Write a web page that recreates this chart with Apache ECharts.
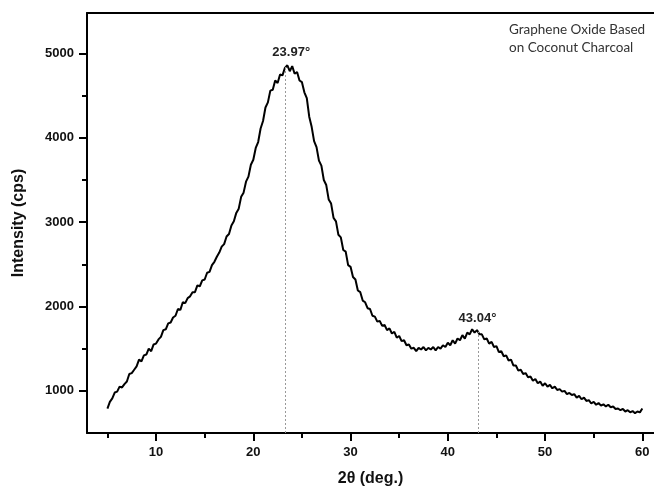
<!DOCTYPE html>
<html>
<head>
<meta charset="utf-8">
<script src="https://cdn.jsdelivr.net/npm/echarts@6/dist/echarts.min.js"></script>
<style>html,body{margin:0;padding:0;background:#fff;}#c{width:654px;height:492px;}</style>
</head>
<body>
<div id="c"></div>
<script>
// 2θ (deg.) , Intensity (cps)
var xrdPoints = [
[5.00,790],[5.25,870],[5.50,910],[5.75,980],[6.00,990],[6.25,1050],[6.50,1040],[6.75,1080],
[7.00,1110],[7.25,1200],[7.50,1210],[7.75,1250],[8.00,1290],[8.25,1370],[8.50,1350],[8.75,1420],
[9.00,1430],[9.25,1500],[9.50,1470],[9.75,1550],[10.00,1560],[10.25,1610],[10.50,1640],[10.75,1720],
[11.00,1730],[11.25,1800],[11.50,1810],[11.75,1870],[12.00,1890],[12.25,1970],[12.50,1960],[12.75,2050],
[13.00,2040],[13.25,2100],[13.50,2120],[13.75,2170],[14.00,2170],[14.25,2250],[14.50,2240],[14.75,2310],
[15.00,2320],[15.25,2400],[15.50,2410],[15.75,2490],[16.00,2530],[16.25,2590],[16.50,2640],[16.75,2710],
[17.00,2740],[17.25,2830],[17.50,2860],[17.75,2960],[18.00,3010],[18.25,3110],[18.50,3160],[18.75,3300],
[19.00,3350],[19.25,3480],[19.50,3540],[19.75,3680],[20.00,3740],[20.25,3880],[20.50,3950],[20.75,4110],
[21.00,4200],[21.25,4360],[21.50,4420],[21.75,4560],[22.00,4570],[22.25,4680],[22.50,4650],[22.75,4750],
[23.00,4740],[23.25,4830],[23.50,4860],[23.75,4790],[24.00,4850],[24.25,4760],[24.50,4780],[24.75,4680],
[25.00,4660],[25.25,4540],[25.50,4470],[25.75,4250],[26.00,4130],[26.25,3960],[26.50,3890],[26.75,3730],
[27.00,3670],[27.25,3500],[27.50,3440],[27.75,3270],[28.00,3220],[28.25,3050],[28.50,3010],[28.75,2850],
[29.00,2820],[29.25,2670],[29.50,2650],[29.75,2490],[30.00,2470],[30.25,2350],[30.50,2320],[30.75,2190],
[31.00,2170],[31.25,2070],[31.50,2050],[31.75,1980],[32.00,1970],[32.25,1890],[32.50,1880],[32.75,1820],
[33.00,1830],[33.25,1770],[33.50,1780],[33.75,1720],[34.00,1740],[34.25,1680],[34.50,1700],[34.75,1630],
[35.00,1650],[35.25,1590],[35.50,1600],[35.75,1540],[36.00,1550],[36.25,1500],[36.50,1510],[36.75,1470],
[37.00,1510],[37.25,1490],[37.50,1520],[37.75,1480],[38.00,1510],[38.25,1490],[38.50,1520],[38.75,1480],
[39.00,1520],[39.25,1500],[39.50,1540],[39.75,1520],[40.00,1570],[40.25,1540],[40.50,1600],[40.75,1560],
[41.00,1620],[41.25,1600],[41.50,1660],[41.75,1620],[42.00,1690],[42.25,1670],[42.50,1730],[42.75,1690],
[43.00,1720],[43.25,1670],[43.50,1670],[43.75,1610],[44.00,1620],[44.25,1560],[44.50,1580],[44.75,1520],
[45.00,1530],[45.25,1460],[45.50,1470],[45.75,1410],[46.00,1420],[46.25,1360],[46.50,1370],[46.75,1300],
[47.00,1300],[47.25,1240],[47.50,1250],[47.75,1200],[48.00,1210],[48.25,1160],[48.50,1170],[48.75,1120],
[49.00,1140],[49.25,1090],[49.50,1110],[49.75,1060],[50.00,1090],[50.25,1050],[50.50,1070],[50.75,1030],
[51.00,1050],[51.25,1010],[51.50,1020],[51.75,990],[52.00,1000],[52.25,960],[52.50,975],[52.75,950],
[53.00,960],[53.25,920],[53.50,940],[53.75,900],[54.00,920],[54.25,880],[54.50,890],[54.75,850],
[55.00,870],[55.25,835],[55.50,855],[55.75,825],[56.00,840],[56.25,815],[56.50,835],[56.75,805],
[57.00,815],[57.25,785],[57.50,790],[57.75,770],[58.00,785],[58.25,755],[58.50,770],[58.75,745],
[59.00,760],[59.25,735],[59.50,755],[59.75,745],[60.00,790]
];
var xMajorTicks = [10, 20, 30, 40, 50, 60];
var xMinorTicks = [5, 15, 25, 35, 45, 55];
var yMajorTicks = [1000, 2000, 3000, 4000, 5000];
var yMinorTicks = [1500, 2500, 3500, 4500];
var peakLabels = ['23.97°', '43.04°'];
var peakLinePos = [23.3, 43.1];
var peakTops = [4850, 1700];
var peakLabelPos = [[23.9, 5010], [43.05, 1860]];
var noteLines = ['Graphene Oxide Based', 'on Coconut Charcoal'];

var X_MIN = 2.9, X_MAX = 61.2, Y_MIN = 500, Y_MAX = 5480;
var FONT = '"Liberation Sans", Arial, sans-serif';

var chart = echarts.init(document.getElementById('c'), null, {renderer: 'canvas'});
var axisLine = {show: true, lineStyle: {color: '#000', width: 2}};
function plain(v) { return String(v); }
chart.setOption({
  animation: false,
  backgroundColor: '#fff',
  title: {
    text: noteLines.join('\n'), left: 509, top: 21, padding: 0,
    textStyle: {fontFamily: 'Lato', fontSize: 13.5, fontWeight: 'normal', color: '#333', lineHeight: 18}
  },
  grid: {left: 87, right: 0, top: 13, bottom: 55, containLabel: false},
  xAxis: [
    {
      type: 'value', min: X_MIN, max: X_MAX, position: 'bottom',
      name: '2θ (deg.)', nameLocation: 'middle', nameGap: 38,
      nameTextStyle: {fontFamily: FONT, fontSize: 16, fontWeight: 'bold', color: '#111'},
      axisLine: axisLine,
      axisTick: {show: true, length: 8, lineStyle: {color: '#000', width: 2}, customValues: xMajorTicks},
      axisLabel: {show: true, customValues: xMajorTicks, formatter: plain, margin: 13, fontFamily: FONT, fontSize: 13, fontWeight: 'bold', color: '#111'},
      splitLine: {show: false}
    },
    {
      type: 'value', min: X_MIN, max: X_MAX, position: 'bottom',
      axisLine: {show: false},
      axisTick: {show: true, length: 5, lineStyle: {color: '#000', width: 2}, customValues: xMinorTicks},
      axisLabel: {show: false, customValues: xMinorTicks},
      splitLine: {show: false}
    },
    {
      type: 'value', min: X_MIN, max: X_MAX, position: 'top',
      axisLine: axisLine, axisTick: {show: false}, axisLabel: {show: false}, splitLine: {show: false}
    }
  ],
  yAxis: [
    {
      type: 'value', min: Y_MIN, max: Y_MAX, position: 'left',
      name: 'Intensity (cps)', nameLocation: 'middle', nameGap: 60, nameRotate: 90,
      nameTextStyle: {fontFamily: FONT, fontSize: 16, fontWeight: 'bold', color: '#111'},
      axisLine: axisLine,
      axisTick: {show: true, length: 8, lineStyle: {color: '#000', width: 2}, customValues: yMajorTicks},
      axisLabel: {show: true, customValues: yMajorTicks, formatter: plain, margin: 13, fontFamily: FONT, fontSize: 13, fontWeight: 'bold', color: '#111'},
      splitLine: {show: false}
    },
    {
      type: 'value', min: Y_MIN, max: Y_MAX, position: 'left',
      axisLine: {show: false},
      axisTick: {show: true, length: 5, lineStyle: {color: '#000', width: 2}, customValues: yMinorTicks},
      axisLabel: {show: false, customValues: yMinorTicks},
      splitLine: {show: false}
    }
  ],
  series: [{
    type: 'line',
    xAxisIndex: 0, yAxisIndex: 0,
    data: xrdPoints,
    showSymbol: false,
    symbol: 'none',
    lineStyle: {color: '#000', width: 2},
    markLine: {
      silent: true, symbol: 'none',
      label: {show: false},
      lineStyle: {color: '#999', width: 1, type: [2, 2]},
      data: peakLinePos.map(function (x, i) {
        return [{coord: [x, Y_MIN]}, {coord: [x, peakTops[i]]}];
      })
    },
    markPoint: {
      silent: true, symbol: 'circle', symbolSize: 0,
      label: {show: true, position: 'inside', fontFamily: FONT, fontSize: 13, fontWeight: 'bold', color: '#222'},
      data: peakLabels.map(function (t, i) {
        return {coord: peakLabelPos[i], value: t, label: {formatter: t}};
      })
    }
  }]
});
</script>
</body>
</html>
